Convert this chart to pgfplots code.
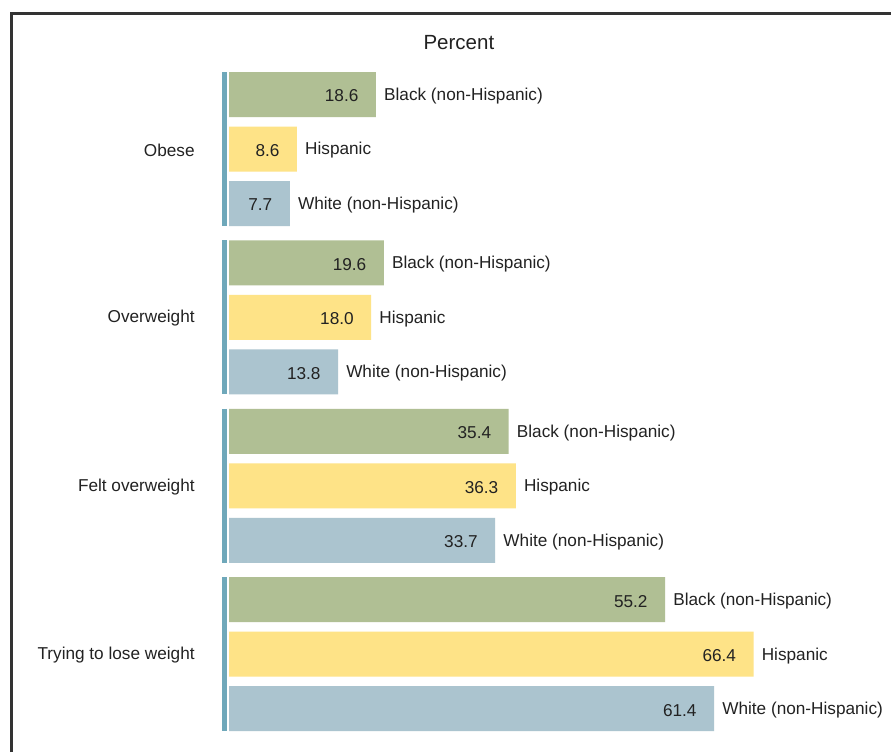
\documentclass[border=0pt]{standalone}
\usepackage{pgfplots}
\pgfplotsset{compat=1.18}
\usepackage{pgfplotstable}
\usepackage{fontspec}
\setmainfont{Liberation Sans}
\definecolor{cblack}{HTML}{B0BF94}
\definecolor{chisp}{HTML}{FEE387}
\definecolor{cwhite}{HTML}{ABC4CF}
\definecolor{csep}{HTML}{6FA8BA}
\definecolor{ctext}{HTML}{222222}
\definecolor{cframe}{HTML}{333333}

\pgfplotstableread{
y x lab
94.5 18.6 18.6
262.9 19.6 19.6
431.3 35.4 35.4
599.7 55.2 55.2
}\blackdata
\pgfplotstableread{
y x lab
149.0 8.6 8.6
317.4 18.0 18.0
485.8 36.3 36.3
654.2 66.4 66.4
}\hispdata
\pgfplotstableread{
y x lab
203.5 7.7 7.7
371.9 13.8 13.8
540.3 33.7 33.7
708.7 61.4 61.4
}\whitedata

\begin{document}
\begin{tikzpicture}
\useasboundingbox (0,0) rectangle (891pt,752pt);
\fill[white] (0,0) rectangle (891pt,752pt);
\begin{axis}[
  at={(0,0)}, anchor=south west,
  scale only axis, width=891pt, height=752pt,
  xmin=-28.987, xmax=83.797, ymin=0, ymax=752, y dir=reverse,
  axis lines=none, clip=false,
  font=\fontsize{17.2}{20}\selectfont\color{ctext},
  value/.style={xbar, bar shift=0pt, bar width=45, draw=none,
    point meta=explicit symbolic, nodes near coords,
    every node near coord/.append style={anchor=east, xshift=-14pt, yshift=-1.5pt, text=ctext, font=\fontsize{17.2}{20}\selectfont}},
  cat/.style={xbar, bar shift=0pt, bar width=45, draw=none, fill=none, forget plot,
    nodes near coords={#1},
    every node near coord/.append style={anchor=west, xshift=4.7pt, yshift=-1.5pt, text=ctext, font=\fontsize{17.2}{20}\selectfont}},
]
\addplot[value, fill=cblack] table[x=x, y=y, meta=lab] {\blackdata};
\addplot[value, fill=chisp] table[x=x, y=y, meta=lab] {\hispdata};
\addplot[value, fill=cwhite] table[x=x, y=y, meta=lab] {\whitedata};
\addplot[cat={Black (non-Hispanic)}] table[x=x, y=y] {\blackdata};
\addplot[cat={Hispanic}] table[x=x, y=y] {\hispdata};
\addplot[cat={White (non-Hispanic)}] table[x=x, y=y] {\whitedata};
% group separators
\addplot[csep, line width=5pt, forget plot] coordinates {(-0.57,72) (-0.57,226)};
\addplot[csep, line width=5pt, forget plot] coordinates {(-0.57,240.4) (-0.57,394.4)};
\addplot[csep, line width=5pt, forget plot] coordinates {(-0.57,408.8) (-0.57,562.8)};
\addplot[csep, line width=5pt, forget plot] coordinates {(-0.57,577.2) (-0.57,731.2)};
% group labels
\node[anchor=east, text=ctext, yshift=-1pt] at (axis cs:-3.9,149) {Obese};
\node[anchor=east, text=ctext, yshift=-1pt] at (axis cs:-3.9,317.4) {Overweight};
\node[anchor=east, text=ctext, yshift=-1pt] at (axis cs:-3.9,485.8) {Felt overweight};
\node[anchor=east, text=ctext, yshift=-1pt] at (axis cs:-3.9,654.2) {Trying to lose weight};
% title
\node[text=ctext, font=\fontsize{20.5}{24}\selectfont] at (axis cs:29.1,43) {Percent};
% frame
\draw[cframe, line width=3pt] (axis cs:-27.47,752) -- (axis cs:-27.47,13.5) -- (axis cs:83.797,13.5);
\end{axis}
\end{tikzpicture}
\end{document}
